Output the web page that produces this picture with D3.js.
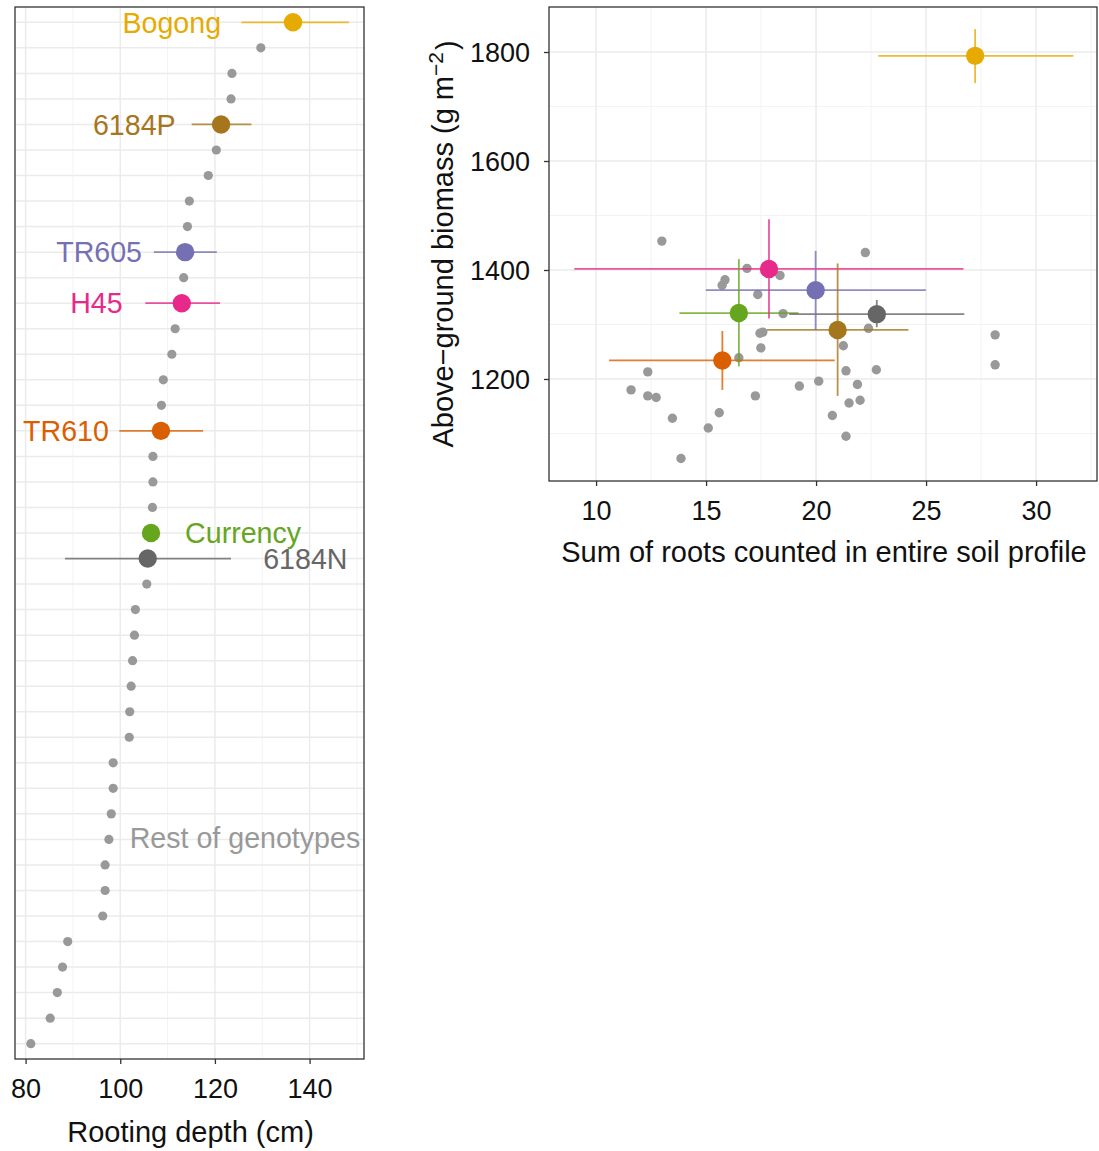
<!DOCTYPE html>
<html>
<head>
<meta charset="utf-8">
<script src="https://cdn.jsdelivr.net/npm/d3@7"></script>
<style>
  html, body { margin: 0; padding: 0; background: #fff; }
  svg { display: block; font-family: "Liberation Sans", Arial, Helvetica, sans-serif; }
</style>
</head>
<body>
<svg id="chart" width="1099" height="1151"></svg>
<script>
// Highlighted genotypes
const highlightNames  = ["Bogong", "6184P", "TR605", "H45", "TR610", "Currency", "6184N"];
const highlightColors = ["#E6AB02", "#A6761D", "#7570B3", "#E7298A", "#D95F02", "#66A61E", "#666666"];

// Rooting depth (cm): mean and interval
const highlightDepth   = [136.5, 121.3, 113.7, 113.0, 108.6, 106.5, 105.8];
const highlightDepthLo = [125.6, 115.1, 107.1, 105.3,  99.8,  null,  88.3];
const highlightDepthHi = [148.3, 127.7, 120.4, 121.1, 117.5,  null, 123.4];

// Sum of roots counted in entire soil profile: mean and interval
const highlightRoots   = [27.23, 20.98, 19.98, 17.86, 15.74, 16.49, 22.76];
const highlightRootsLo = [22.83, 17.76, 14.99,  9.01, 10.59, 13.79, 18.78];
const highlightRootsHi = [31.70, 24.20, 24.99, 26.70, 20.85, 19.20, 26.74];

// Above-ground biomass (g m-2): mean and interval
const highlightBiomass   = [1793, 1290, 1363, 1402, 1234, 1321, 1319];
const highlightBiomassLo = [1743, 1169, 1290, 1311, 1180, 1223, 1295];
const highlightBiomassHi = [1842, 1412, 1435, 1493, 1288, 1420, 1345];

// Remaining genotypes
const otherDepth = [129.7, 123.6, 123.4, 120.3, 118.6, 114.6, 114.2, 113.4, 111.6, 110.9,
                    109.1, 108.7, 106.9, 106.9, 106.8, 105.6, 103.2, 103.0, 102.6, 102.3,
                    102.0, 101.9,  98.5,  98.5,  98.1,  97.6,  96.8,  96.8,  96.3,  88.9,
                     87.8,  86.7,  85.2,  81.1];
const otherRoots = [12.99, 16.86, 15.86, 15.73, 18.36, 17.35, 18.50, 17.58, 17.45, 17.49,
                    16.49, 12.35, 11.59, 12.35, 12.73, 19.24, 20.12, 17.24, 13.47, 15.60,
                    15.10, 13.86, 20.74, 22.24, 22.38, 21.24, 21.36, 22.74, 21.88, 22.00,
                    21.50, 21.36, 28.14, 28.14];
const otherBiomass = [1453, 1403, 1382, 1372, 1390, 1355, 1320, 1286, 1284, 1257,
                      1239, 1213, 1180, 1169, 1166, 1187, 1196, 1169, 1128, 1138,
                      1110, 1054, 1133, 1432, 1293, 1261, 1215, 1217, 1190, 1161,
                      1156, 1095, 1281, 1226];

// Axis ticks
const depthTicks   = [80, 100, 120, 140];
const rootsTicks   = [10, 15, 20, 25, 30];
const biomassTicks = [1200, 1400, 1600, 1800];

// Axis titles
const depthTitle = "Rooting depth (cm)";
const rootsTitle = "Sum of roots counted in entire soil profile";
const restLabel  = "Rest of genotypes";

// ---------------------------------------------------------------
const svg = d3.select("#chart");
const GRID = "#EBEBEB", GRID_MINOR = "#F3F3F3", BORDER = "#333333", OTHER = "#999999";
const TICK_FONT = 27, TITLE_FONT = 29, LABEL_FONT = 28.6;

// Build one record per genotype
const highlights = highlightNames.map((name, i) => ({
  id: name, name, color: highlightColors[i], hl: true,
  depth: highlightDepth[i], depthLo: highlightDepthLo[i], depthHi: highlightDepthHi[i],
  roots: highlightRoots[i], rootsLo: highlightRootsLo[i], rootsHi: highlightRootsHi[i],
  biomass: highlightBiomass[i], biomassLo: highlightBiomassLo[i], biomassHi: highlightBiomassHi[i]
}));
const others = otherDepth.map((d, i) => ({
  id: "g" + i, hl: false, color: OTHER,
  depth: d, roots: otherRoots[i], biomass: otherBiomass[i]
}));
const all = highlights.concat(others).sort((a, b) => b.depth - a.depth);

// ================= Left panel: rooting depth by genotype =================
const L = { left: 15, right: 364, top: 7, bottom: 1059 };
const xDepth = d3.scaleLinear().domain([77.76, 151.5]).range([L.left, L.right]);
const yRow = d3.scalePoint().domain(all.map(d => d.id)).range([L.top, L.bottom]).padding(0.6);

const gL = svg.append("g");
gL.append("rect").attr("x", L.left).attr("y", L.top)
  .attr("width", L.right - L.left).attr("height", L.bottom - L.top).attr("fill", "#fff");

// minor vertical grid
gL.selectAll(".vminor").data([90, 110, 130, 150]).join("line")
  .attr("x1", d => xDepth(d)).attr("x2", d => xDepth(d))
  .attr("y1", L.top).attr("y2", L.bottom)
  .attr("stroke", GRID_MINOR).attr("stroke-width", 1);
// major vertical grid
gL.selectAll(".vmajor").data(depthTicks).join("line")
  .attr("x1", d => xDepth(d)).attr("x2", d => xDepth(d))
  .attr("y1", L.top).attr("y2", L.bottom)
  .attr("stroke", GRID).attr("stroke-width", 1.5);
// row grid
gL.selectAll(".hrow").data(all).join("line")
  .attr("x1", L.left).attr("x2", L.right)
  .attr("y1", d => yRow(d.id)).attr("y2", d => yRow(d.id))
  .attr("stroke", GRID).attr("stroke-width", 1.5);

// grey points
gL.selectAll(".odot").data(all.filter(d => !d.hl)).join("circle")
  .attr("cx", d => xDepth(d.depth)).attr("cy", d => yRow(d.id))
  .attr("r", 4.6).attr("fill", OTHER);

// intervals
gL.selectAll(".bar").data(highlights.filter(d => d.depthLo != null)).join("line")
  .attr("x1", d => xDepth(d.depthLo)).attr("x2", d => xDepth(d.depthHi))
  .attr("y1", d => yRow(d.id)).attr("y2", d => yRow(d.id))
  .attr("stroke", d => d.color).attr("stroke-width", 1.8).attr("stroke-opacity", 0.8);

// highlighted points
gL.selectAll(".hdot").data(highlights).join("circle")
  .attr("cx", d => xDepth(d.depth)).attr("cy", d => yRow(d.id))
  .attr("r", 9.2).attr("fill", d => d.color);

// text labels (anchored in data units along the depth axis)
const labelPlacement = {
  "Bogong":   { at: 121.3, anchor: "end" },
  "6184P":    { at: 111.7, anchor: "end" },
  "TR605":    { at: 104.6, anchor: "end" },
  "H45":      { at: 100.5, anchor: "end" },
  "TR610":    { at: 97.6,  anchor: "end" },
  "Currency": { at: 113.7, anchor: "start" },
  "6184N":    { at: 130.2, anchor: "start" }
};
gL.selectAll(".lbl").data(highlights).join("text")
  .attr("x", d => xDepth(labelPlacement[d.name].at))
  .attr("y", d => yRow(d.id))
  .attr("dy", "0.36em")
  .attr("text-anchor", d => labelPlacement[d.name].anchor)
  .attr("font-size", LABEL_FONT).attr("fill", d => d.color)
  .text(d => d.name);

// label for the unnamed genotypes, on the row of the 33rd genotype
gL.append("text")
  .attr("x", xDepth(102.0)).attr("y", yRow(all[32].id)).attr("dy", "0.3em")
  .attr("font-size", LABEL_FONT).attr("fill", OTHER).text(restLabel);

// border
gL.append("rect").attr("x", L.left).attr("y", L.top)
  .attr("width", L.right - L.left).attr("height", L.bottom - L.top)
  .attr("fill", "none").attr("stroke", BORDER).attr("stroke-width", 1.3);

// x axis
const axL = gL.append("g").attr("transform", `translate(0,${L.bottom})`)
  .call(d3.axisBottom(xDepth).tickValues(depthTicks).tickSize(5).tickFormat(d3.format("d")));
axL.select(".domain").remove();
axL.selectAll(".tick line").attr("stroke", BORDER).attr("stroke-width", 1.3);
axL.selectAll(".tick text").attr("y", 39).attr("dy", null)
  .attr("font-size", TICK_FONT).attr("fill", "#111").attr("font-family", null);
gL.append("text")
  .attr("x", (L.left + L.right) / 2 + 1).attr("y", 1142)
  .attr("text-anchor", "middle").attr("font-size", TITLE_FONT).attr("fill", "#111")
  .text(depthTitle);

// ================= Right panel: biomass vs root count =================
const R = { left: 549, right: 1097, top: 7, bottom: 481 };
const xRoots = d3.scaleLinear().domain([7.86, 32.77]).range([R.left, R.right]);
const yBio = d3.scaleLinear().domain([1012.8, 1882.6]).range([R.bottom, R.top]);

const gR = svg.append("g");
gR.append("rect").attr("x", R.left).attr("y", R.top)
  .attr("width", R.right - R.left).attr("height", R.bottom - R.top).attr("fill", "#fff");

const xMinor = [12.5, 17.5, 22.5, 27.5, 32.5];
const yMinor = [1100, 1300, 1500, 1700];
gR.selectAll(".vminor").data(xMinor).join("line")
  .attr("x1", d => xRoots(d)).attr("x2", d => xRoots(d))
  .attr("y1", R.top).attr("y2", R.bottom)
  .attr("stroke", GRID_MINOR).attr("stroke-width", 1);
gR.selectAll(".hminor").data(yMinor).join("line")
  .attr("x1", R.left).attr("x2", R.right)
  .attr("y1", d => yBio(d)).attr("y2", d => yBio(d))
  .attr("stroke", GRID_MINOR).attr("stroke-width", 1);
gR.selectAll(".vmajor").data(rootsTicks).join("line")
  .attr("x1", d => xRoots(d)).attr("x2", d => xRoots(d))
  .attr("y1", R.top).attr("y2", R.bottom)
  .attr("stroke", GRID).attr("stroke-width", 1.5);
gR.selectAll(".hmajor").data(biomassTicks).join("line")
  .attr("x1", R.left).attr("x2", R.right)
  .attr("y1", d => yBio(d)).attr("y2", d => yBio(d))
  .attr("stroke", GRID).attr("stroke-width", 1.5);

// grey points
gR.selectAll(".odot").data(others).join("circle")
  .attr("cx", d => xRoots(d.roots)).attr("cy", d => yBio(d.biomass))
  .attr("r", 4.7).attr("fill", OTHER);

// horizontal and vertical intervals
gR.selectAll(".hbar").data(highlights).join("line")
  .attr("x1", d => xRoots(d.rootsLo)).attr("x2", d => xRoots(d.rootsHi))
  .attr("y1", d => yBio(d.biomass)).attr("y2", d => yBio(d.biomass))
  .attr("stroke", d => d.color).attr("stroke-width", 1.8).attr("stroke-opacity", 0.8);
gR.selectAll(".vbar").data(highlights).join("line")
  .attr("x1", d => xRoots(d.roots)).attr("x2", d => xRoots(d.roots))
  .attr("y1", d => yBio(d.biomassLo)).attr("y2", d => yBio(d.biomassHi))
  .attr("stroke", d => d.color).attr("stroke-width", 1.8).attr("stroke-opacity", 0.8);

// highlighted points
gR.selectAll(".hdot").data(highlights).join("circle")
  .attr("cx", d => xRoots(d.roots)).attr("cy", d => yBio(d.biomass))
  .attr("r", 9.2).attr("fill", d => d.color);

// border
gR.append("rect").attr("x", R.left).attr("y", R.top)
  .attr("width", R.right - R.left).attr("height", R.bottom - R.top)
  .attr("fill", "none").attr("stroke", BORDER).attr("stroke-width", 1.3);

// x axis
const axRx = gR.append("g").attr("transform", `translate(0,${R.bottom})`)
  .call(d3.axisBottom(xRoots).tickValues(rootsTicks).tickSize(5).tickFormat(d3.format("d")));
axRx.select(".domain").remove();
axRx.selectAll(".tick line").attr("stroke", BORDER).attr("stroke-width", 1.3);
axRx.selectAll(".tick text").attr("y", 39).attr("dy", null)
  .attr("font-size", TICK_FONT).attr("fill", "#111").attr("font-family", null);

// y axis
const axRy = gR.append("g").attr("transform", `translate(${R.left},0)`)
  .call(d3.axisLeft(yBio).tickValues(biomassTicks).tickSize(5).tickFormat(d3.format("d")));
axRy.select(".domain").remove();
axRy.selectAll(".tick line").attr("stroke", BORDER).attr("stroke-width", 1.3);
axRy.selectAll(".tick text").attr("x", -19).attr("dy", "0.36em")
  .attr("font-size", TICK_FONT).attr("fill", "#111").attr("font-family", null);

// axis titles
gR.append("text")
  .attr("x", (R.left + R.right) / 2 + 1).attr("y", 562)
  .attr("text-anchor", "middle").attr("font-size", TITLE_FONT).attr("fill", "#111")
  .text(rootsTitle);

const yTitle = gR.append("text")
  .attr("transform", `translate(453,${(R.top + R.bottom) / 2}) rotate(-90)`)
  .attr("text-anchor", "middle").attr("font-size", TITLE_FONT).attr("fill", "#111");
yTitle.append("tspan").text("Above\u2212ground biomass (g m");
yTitle.append("tspan").attr("dy", "-0.5em").attr("font-size", 21).text("\u22122");
yTitle.append("tspan").attr("dy", "0.5em").attr("dx", "2").text(")");
</script>
</body>
</html>
